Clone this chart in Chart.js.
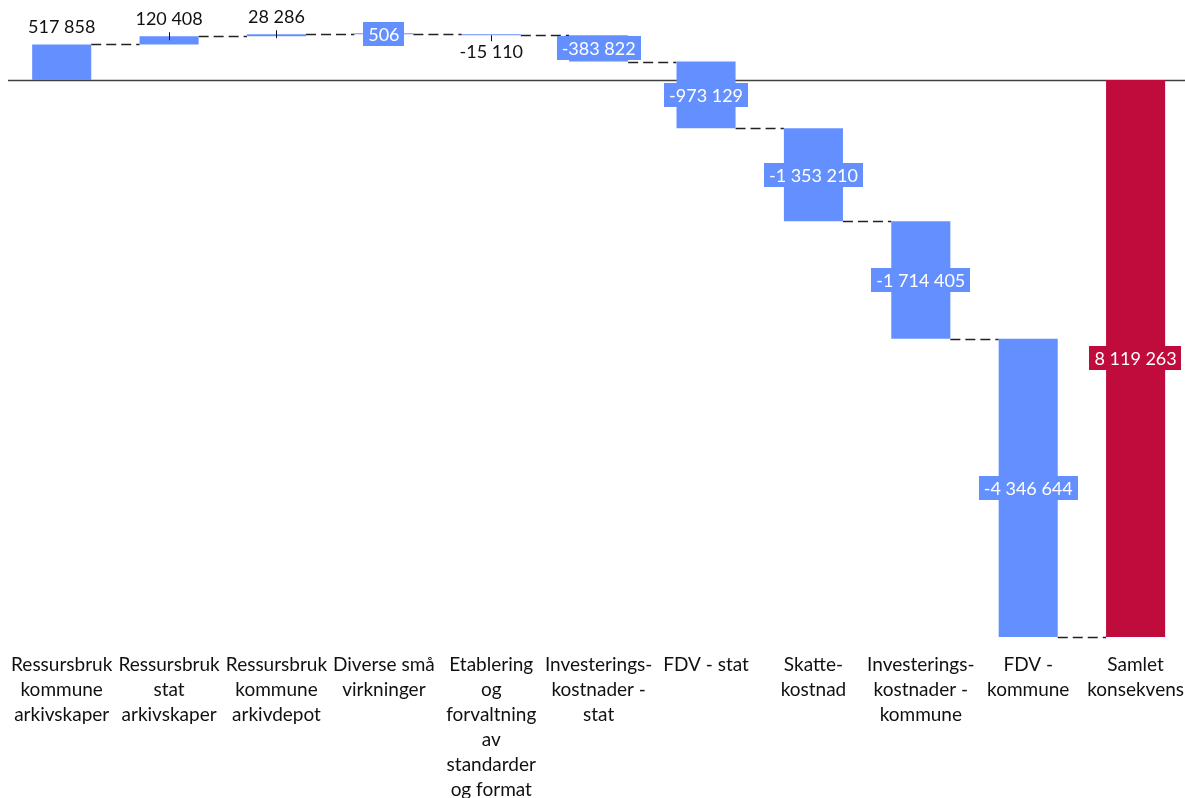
<!DOCTYPE html>
<html>
<head>
<meta charset="utf-8">
<script src="https://cdn.jsdelivr.net/npm/chart.js@4.4.1/dist/chart.umd.min.js"></script>
<style>
  html, body { margin: 0; padding: 0; background: #fff; overflow: hidden; }
</style>
</head>
<body>
<canvas id="chart" width="1191" height="798"></canvas>
<script>
// Data
const categories = [
    ['Ressursbruk', 'kommune', 'arkivskaper'],
    ['Ressursbruk', 'stat', 'arkivskaper'],
    ['Ressursbruk', 'kommune', 'arkivdepot'],
    ['Diverse små', 'virkninger'],
    ['Etablering', 'og', 'forvaltning', 'av', 'standarder', 'og format'],
    ['Investerings-', 'kostnader -', 'stat'],
    ['FDV - stat'],
    ['Skatte-', 'kostnad'],
    ['Investerings-', 'kostnader -', 'kommune'],
    ['FDV -', 'kommune'],
    ['Samlet', 'konsekvens']
];
const changes = [517858, 120408, 28286, 506, -15110, -383822, -973129, -1353210, -1714405, -4346644];
const totalValue = 8119263;

// label placement per bar (rendering config)
const labelPos = ['above', 'above', 'above', 'inside', 'below', 'inside', 'inside', 'inside', 'inside', 'inside', 'inside'];

const BLUE = '#6490FF';
const RED = '#C00C3C';
const FONT = 'Lato';

// build floating bars
const bars = [];
const ends = [];
let run = 0;
changes.forEach(v => {
    bars.push([run, run + v]);
    run += v;
    ends.push(run);
});
bars.push([0, -totalValue]);
const barLabels = changes.concat([totalValue]);
const colors = changes.map(() => BLUE).concat([RED]);

function fmt(n) {
    const s = Math.abs(n).toString().replace(/\B(?=(\d{3})+(?!\d))/g, ' ');
    return (n < 0 ? '-' : '') + s;
}

const waterfallPlugin = {
    id: 'waterfall',
    beforeDatasetsDraw(chart) {
        const { ctx, chartArea, scales: { y } } = chart;
        const meta = chart.getDatasetMeta(0);
        ctx.save();
        const y0 = Math.round(y.getPixelForValue(0)) + 0.5;
        ctx.strokeStyle = '#404040';
        ctx.lineWidth = 1.5;
        ctx.beginPath();
        ctx.moveTo(chartArea.left, y0);
        ctx.lineTo(1185, y0);
        ctx.stroke();

        ctx.setLineDash([10, 5]);
        ctx.strokeStyle = '#222';
        ctx.lineWidth = 1.5;
        ctx.beginPath();
        for (let i = 0; i < meta.data.length - 1; i++) {
            const a = meta.data[i], b = meta.data[i + 1];
            const py = Math.round(y.getPixelForValue(ends[i])) + 0.5;
            ctx.moveTo(a.x + a.width / 2, py);
            ctx.lineTo(b.x - b.width / 2, py);
        }
        ctx.stroke();
        ctx.restore();
    },
    afterDatasetsDraw(chart) {
        const { ctx, scales: { y } } = chart;
        const meta = chart.getDatasetMeta(0);
        ctx.save();
        ctx.font = '18px ' + FONT;
        ctx.textAlign = 'center';
        ctx.textBaseline = 'middle';
        meta.data.forEach((el, i) => {
            const text = fmt(barLabels[i]);
            const top = Math.min(y.getPixelForValue(bars[i][0]), y.getPixelForValue(bars[i][1]));
            const bottom = Math.max(y.getPixelForValue(bars[i][0]), y.getPixelForValue(bars[i][1]));
            const small = bottom - top < 10;
            if (labelPos[i] === 'above') {
                ctx.fillStyle = '#111';
                ctx.fillText(text, el.x, top - 17);
                if (small) {
                    ctx.strokeStyle = '#111';
                    ctx.lineWidth = 1;
                    ctx.beginPath();
                    ctx.moveTo(Math.round(el.x) + 0.5, top - 4);
                    ctx.lineTo(Math.round(el.x) + 0.5, top + 4);
                    ctx.stroke();
                }
            } else if (labelPos[i] === 'below') {
                ctx.fillStyle = '#111';
                ctx.fillText(text, el.x, bottom + 17);
                if (small) {
                    ctx.strokeStyle = '#111';
                    ctx.lineWidth = 1;
                    ctx.beginPath();
                    ctx.moveTo(Math.round(el.x) + 0.5, bottom);
                    ctx.lineTo(Math.round(el.x) + 0.5, bottom + 6);
                    ctx.stroke();
                }
            } else {
                const cy = (top + bottom) / 2;
                const w = ctx.measureText(text).width + 10;
                const h = 24;
                ctx.fillStyle = colors[i];
                ctx.fillRect(Math.round(el.x - w / 2), Math.round(cy - h / 2), Math.round(w), h);
                ctx.fillStyle = '#fff';
                ctx.fillText(text, el.x, cy + 1);
            }
        });
        ctx.restore();
    }
};

new Chart(document.getElementById('chart'), {
    type: 'bar',
    data: {
        labels: categories,
        datasets: [{
            data: bars,
            backgroundColor: colors,
            borderWidth: 0,
            minBarLength: 1,
            categoryPercentage: 1,
            barPercentage: 0.55
        }]
    },
    options: {
        responsive: false,
        animation: false,
        devicePixelRatio: 1,
        layout: { padding: { left: 8, right: 0, top: 0, bottom: 0 } },
        plugins: { legend: { display: false }, tooltip: { enabled: false } },
        scales: {
            x: {
                grid: { display: false },
                border: { display: false },
                ticks: {
                    color: '#111',
                    font: { family: FONT, size: 19, lineHeight: 25 / 19 },
                    padding: 7,
                    maxRotation: 0,
                    autoSkip: false
                },
                afterFit(scale) { scale.height = 161; }
            },
            y: {
                display: false,
                min: -totalValue,
                max: 1166000
            }
        }
    },
    plugins: [waterfallPlugin]
});
</script>
</body>
</html>
